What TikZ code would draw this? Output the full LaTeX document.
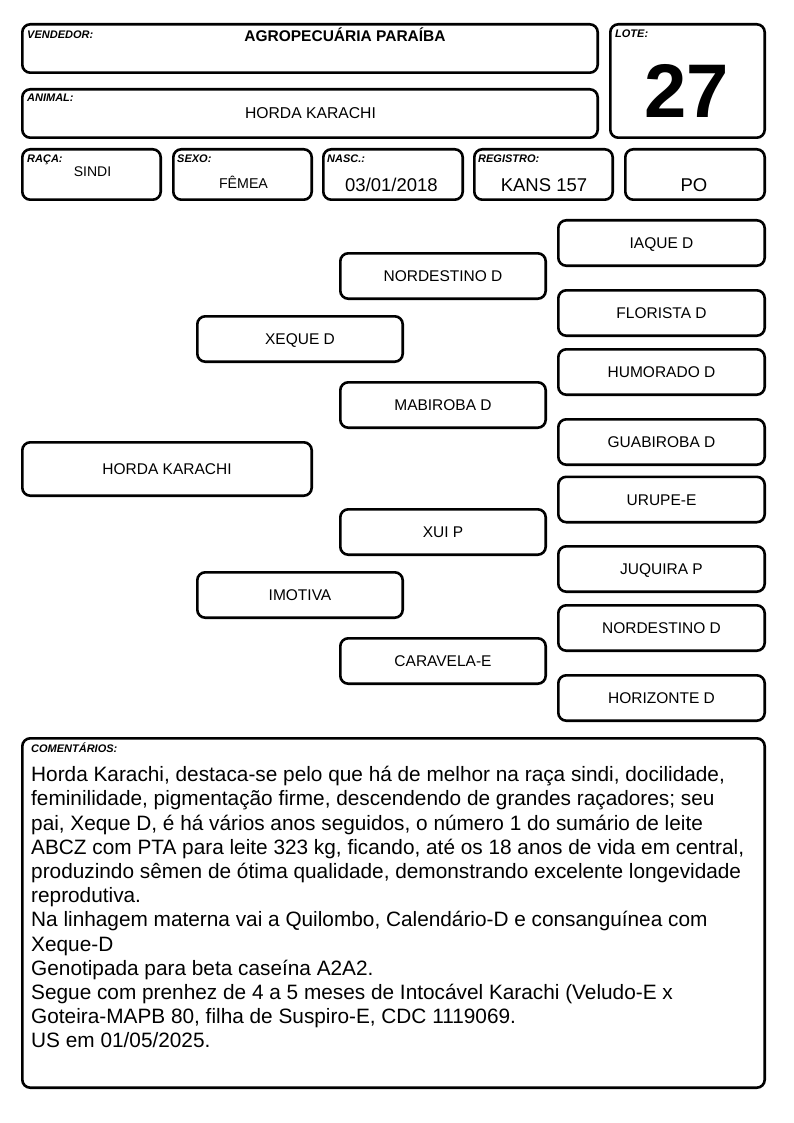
\documentclass[tikz,border=0pt]{standalone}
\usepackage{fontspec}
\setmainfont{Liberation Sans}
\begin{document}
\begin{tikzpicture}[x=1pt,y=-1pt,
  box/.style={draw, line width=2.6pt, rounded corners=8pt, inner sep=0pt},
  lbl/.style={anchor=base west, inner sep=0pt, font=\fontsize{11}{12}\selectfont\bfseries\itshape},
  val/.style={anchor=base, inner sep=0pt},
  pedbox/.style={box, minimum width=205.4pt, minimum height=45.4pt, font=\fontsize{15.5}{18}\selectfont, text height=11.1pt, text depth=0pt},
  col4/.style={pedbox, minimum width=206.4pt}
]
\useasboundingbox (0,0) rectangle (794,1123);
% header boxes
\node[box, minimum width=575.4pt, minimum height=48.4pt] (vend) at (310,48.5) {};
\node[box, minimum width=575.4pt, minimum height=48.4pt] (anim) at (310,113.5) {};
\node[box, minimum width=154.4pt, minimum height=113.4pt] (lote) at (687.5,81) {};
\node[box, minimum width=138.4pt, minimum height=50.4pt] (raca) at (91.5,174.5) {};
\node[box, minimum width=138.4pt, minimum height=50.4pt] (sexo) at (242.5,174.5) {};
\node[box, minimum width=139.4pt, minimum height=50.4pt] (nasc) at (393,174.5) {};
\node[box, minimum width=138.4pt, minimum height=50.4pt] (regi) at (543.5,174.5) {};
\node[box, minimum width=139.4pt, minimum height=50.4pt] (po) at (695,174.5) {};
% labels
\node[lbl] (lvend) at (27,39) {VENDEDOR:};
\node[lbl] (lanim) at (27,102) {ANIMAL:};
\node[lbl] (llote) at (615,38) {LOTE:};
\node[lbl] (lraca) at (27,163) {RAÇA:};
\node[lbl] (lsexo) at (177,163) {SEXO:};
\node[lbl] (lnasc) at (327,163) {NASC.:};
\node[lbl] (lregi) at (478,163) {REGISTRO:};
% values
\node[val, font=\fontsize{15.5}{18}\selectfont\bfseries] (vvend) at (345,42) {AGROPECUÁRIA PARAÍBA};
\node[val, font=\fontsize{15.7}{18}\selectfont] (vanim) at (310.5,119) {HORDA KARACHI};
\node[val, font=\fontsize{76}{80}\selectfont\bfseries] (vlote) at (687,118) {27};
\node[val, font=\fontsize{14}{16}\selectfont] (vraca) at (92.5,177) {SINDI};
\node[val, font=\fontsize{14.2}{16}\selectfont] (vsexo) at (243.5,189) {FÊMEA};
\node[val, font=\fontsize{18.5}{20}\selectfont] (vnasc) at (391.5,192) {03/01/2018};
\node[val, font=\fontsize{18.5}{20}\selectfont] (vregi) at (544,192) {KANS 157};
\node[val, font=\fontsize{18.5}{20}\selectfont] (vpo) at (694,192) {PO};
% pedigree
\node[pedbox, minimum width=289.4pt, minimum height=53.4pt] (hk) at (167,469) {HORDA KARACHI};
\node[pedbox] (xeque) at (300,339) {XEQUE D};
\node[pedbox] (imotiva) at (300,595) {IMOTIVA};
\node[pedbox] (nordestino) at (443,276) {NORDESTINO D};
\node[pedbox] (mabiroba) at (443,405) {MABIROBA D};
\node[pedbox] (xui) at (443,532) {XUI P};
\node[pedbox] (caravela) at (443,661) {CARAVELA-E};
\node[col4] (iaque) at (661.5,243) {IAQUE D};
\node[col4] (florista) at (661.5,313) {FLORISTA D};
\node[col4] (humorado) at (661.5,372) {HUMORADO D};
\node[col4] (guabiroba) at (661.5,442) {GUABIROBA D};
\node[col4] (urupe) at (661.5,499.5) {URUPE-E};
\node[col4] (juquira) at (661.5,569) {JUQUIRA P};
\node[col4] (nordestino2) at (661.5,628) {NORDESTINO D};
\node[col4] (horizonte) at (661.5,698) {HORIZONTE D};
% comments
\node[box, minimum width=742.4pt, minimum height=349.4pt] (com) at (393.5,913) {};
\node[lbl] (lcom) at (31,752) {COMENTÁRIOS:};
\node[anchor=north west, inner sep=0pt, align=left, font=\fontsize{20.8}{24.2}\selectfont] (tcom) at (31,764.5) {\strut Horda Karachi, destaca-se pelo que há de melhor na raça sindi, docilidade,\\
feminilidade, pigmentação firme, descendendo de grandes raçadores; seu\\
pai, Xeque D, é há vários anos seguidos, o número 1 do sumário de leite\\
ABCZ com PTA para leite 323 kg, ficando, até os 18 anos de vida em central,\\
produzindo sêmen de ótima qualidade, demonstrando excelente longevidade\\
reprodutiva.\\
Na linhagem materna vai a Quilombo, Calendário-D e consanguínea com\\
Xeque-D\\
Genotipada para beta caseína A2A2.\\
Segue com prenhez de 4 a 5 meses de Intocável Karachi (Veludo-E x\\
Goteira-MAPB 80, filha de Suspiro-E, CDC 1119069.\\
US em 01/05/2025.};
\end{tikzpicture}
\end{document}
